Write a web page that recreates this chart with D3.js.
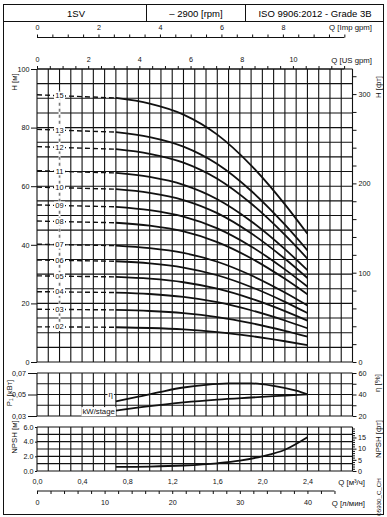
<!DOCTYPE html>
<html>
<head>
<meta charset="utf-8">
<script src="https://cdn.jsdelivr.net/npm/d3@7"></script>
<style>
  body { margin: 0; background: #fff; }
  svg { display: block; font-family: 'Liberation Sans', Arial, sans-serif; }
</style>
</head>
<body>
<svg id="chart" width="387" height="517"></svg>
<script>
// Flow points (m3/h) where head curves were read
var flowPoints = [0, 0.7, 1.0, 1.3, 1.6, 1.9, 2.2, 2.4];
var stageNames = ['02', '03', '04', '05', '06', '07', '08', '09', '10', '11', '12', '13', '15'];
var head02 = [12.0, 11.86, 11.6, 11.11, 10.21, 8.83, 7.08, 5.76];
var head03 = [18.0, 17.78, 17.41, 16.67, 15.32, 13.25, 10.62, 8.64];
var head04 = [24.0, 23.71, 23.21, 22.22, 20.42, 17.66, 14.16, 11.52];
var head05 = [29.4, 29.05, 28.43, 27.22, 25.02, 21.64, 17.35, 14.11];
var head06 = [34.8, 34.38, 33.65, 32.22, 29.61, 25.61, 20.53, 16.70];
var head07 = [40.2, 39.72, 38.87, 37.23, 34.21, 29.59, 23.72, 19.30];
var head08 = [48.1, 47.52, 46.51, 44.54, 40.93, 35.40, 28.38, 23.09];
var head09 = [53.6, 52.96, 51.83, 49.63, 45.61, 39.45, 31.62, 25.73];
var head10 = [59.7, 58.98, 57.73, 55.28, 50.80, 43.94, 35.22, 28.66];
var head11 = [65.3, 64.52, 63.15, 60.47, 55.57, 48.06, 38.53, 31.34];
var head12 = [73.5, 72.62, 71.07, 68.06, 62.55, 54.10, 43.37, 35.28];
var head13 = [79.4, 78.45, 76.78, 73.52, 67.57, 58.44, 46.85, 38.11];
var head15 = [91.2, 90.11, 88.19, 84.45, 77.61, 67.12, 53.81, 43.78];
var headCurves = [head02, head03, head04, head05, head06, head07, head08, head09, head10, head11, head12, head13, head15];

var effFlow = [0.7, 0.9, 1.1, 1.3, 1.5, 1.7, 1.9, 2.1, 2.3, 2.4];
var effValues = [33.5, 38, 42.5, 46.5, 49, 50.3, 50.4, 48, 43.5, 40.2];
var powerFlow = [0.7, 1.0, 1.3, 1.6, 1.9, 2.2, 2.4];
var powerValues = [0.035, 0.0392, 0.0427, 0.0453, 0.0472, 0.049, 0.0502];
var npshFlow = [0.7, 1.0, 1.3, 1.6, 1.8, 2.0, 2.2, 2.4];
var npshValues = [0.55, 0.6, 0.75, 1.05, 1.4, 2.0, 2.9, 4.6];

// Tick labels
var flowTicks = [0, 0.4, 0.8, 1.2, 1.6, 2.0, 2.4];
var headTicks = [0, 20, 40, 60, 80, 100];
var headFtLabels = [0, 100, 200, 300];
var powerTicks = [0.03, 0.05, 0.07];
var effTicks = [20, 40, 60];
var npshTicks = [0, 2, 4, 6];
var npshFtLabels = [0, 5, 10, 15];
var impLabels = [0, 2, 4, 6, 8];
var usLabels = [0, 2, 4, 6, 8, 10];
var lminLabels = [0, 10, 20, 30, 40];
var headerTexts = ['1SV', '\u2013 2900 [rpm]', 'ISO 9906:2012 - Grade 3B'];

var svg = d3.select('#chart');
var INK = '#111';

var x = d3.scaleLinear().domain([0, 2.8]).range([37, 352.5]);
var yH = d3.scaleLinear().domain([0, 100]).range([362, 69]);
var yP = d3.scaleLinear().domain([0.03, 0.07]).range([416, 373]);
var yEta = d3.scaleLinear().domain([20, 60]).range([416, 373]);
var yN = d3.scaleLinear().domain([0, 6]).range([471, 427]);

function comma(d) {
  return String(d).replace('.', ',');
}

/*
 * Frame and header
 */
svg.append('rect')
  .attr('x', 3.5).attr('y', 4.5)
  .attr('width', 380).attr('height', 510)
  .attr('fill', 'none').attr('stroke', INK);
svg.append('line')
  .attr('x1', 3.5).attr('x2', 383.5).attr('y1', 21.5).attr('y2', 21.5)
  .attr('stroke', INK);
[146.5, 245.5].forEach(function(px) {
  svg.append('line')
    .attr('x1', px).attr('x2', px).attr('y1', 4.5).attr('y2', 21.5)
    .attr('stroke', INK);
});
svg.selectAll('.header').data(headerTexts).enter().append('text')
  .attr('class', 'header')
  .attr('x', function(d, i) { return [76, 196, 315][i]; })
  .attr('y', 16.5)
  .attr('text-anchor', 'middle')
  .attr('font-size', 9.5)
  .text(function(d) { return d; });

/*
 * Grids
 */
function drawGrid(yScale, yValues) {
  var g = svg.append('g').attr('class', 'grid');
  var r = yScale.range();
  g.selectAll('.v').data(d3.range(0, 2.801, 0.1)).enter().append('line')
    .attr('x1', function(d) { return x(d); })
    .attr('x2', function(d) { return x(d); })
    .attr('y1', r[0]).attr('y2', r[1])
    .attr('stroke', INK).attr('stroke-width', 1.1);
  g.selectAll('.h').data(yValues).enter().append('line')
    .attr('x1', x(0)).attr('x2', x(2.8))
    .attr('y1', function(d) { return yScale(d); })
    .attr('y2', function(d) { return yScale(d); })
    .attr('stroke', INK).attr('stroke-width', 1.1);
}
drawGrid(yH, d3.range(0, 100.1, 5));
drawGrid(yP, [0.03, 0.04, 0.05, 0.06, 0.07]);
drawGrid(yN, [0, 1, 2, 3, 4, 5, 6]);

/*
 * Axes
 */
function styleAxis(g, size) {
  g.attr('font-size', size || 7.2).attr('font-family', null);
  g.selectAll('line').attr('stroke', INK);
  g.selectAll('text').attr('fill', INK);
  g.select('.domain').remove();
}

// left
svg.append('g').attr('transform', 'translate(' + x(0) + ',0)')
  .call(d3.axisLeft(yH).tickValues(headTicks).tickSize(6).tickPadding(1.5))
  .call(styleAxis);
svg.append('g').attr('transform', 'translate(' + x(0) + ',0)')
  .call(d3.axisLeft(yP).tickValues(powerTicks).tickSize(9).tickPadding(2)
    .tickFormat(function(d) { return d3.format('.2f')(d).replace('.', ','); }))
  .call(styleAxis);
svg.append('g').attr('transform', 'translate(' + x(0) + ',0)')
  .call(d3.axisLeft(yN).tickValues(npshTicks).tickSize(2).tickPadding(1.5))
  .call(styleAxis);

// right
var yFt = d3.scaleLinear().domain([0, 100 / 0.3048]).range(yH.range());
svg.append('g').attr('transform', 'translate(' + x(2.8) + ',0)')
  .call(d3.axisRight(yFt).tickValues(d3.range(0, 321, 20)).tickSize(4).tickPadding(2)
    .tickFormat(function(d) { return headFtLabels.indexOf(d) >= 0 ? d : ''; }))
  .call(styleAxis);
svg.append('g').attr('transform', 'translate(' + x(2.8) + ',0)')
  .call(d3.axisRight(yEta).tickValues([20, 30, 40, 50, 60]).tickSize(4).tickPadding(2)
    .tickFormat(function(d) { return effTicks.indexOf(d) >= 0 ? d : ''; }))
  .call(styleAxis);
var yNFt = d3.scaleLinear().domain([0, 6 / 0.3048]).range(yN.range());
svg.append('g').attr('transform', 'translate(' + x(2.8) + ',0)')
  .call(d3.axisRight(yNFt).tickValues(d3.range(0, 19.5, 1)).tickSize(2.5).tickPadding(3)
    .tickFormat(function(d) { return npshFtLabels.indexOf(d) >= 0 ? d : ''; }))
  .call(styleAxis)
  .selectAll('.tick line')
  .attr('x2', function(d) { return d % 5 === 0 ? 4 : 2.5; });

// bottom m3/h
svg.append('g').attr('transform', 'translate(0,' + yN(0) + ')')
  .call(d3.axisBottom(x).tickValues(flowTicks).tickSize(0).tickPadding(8)
    .tickFormat(function(d) { return d3.format('.1f')(d).replace('.', ','); }))
  .call(styleAxis);

// secondary flow scales
function unitAxis(factor, maxValue, step, labels, y, orient, pad) {
  var s = d3.scaleLinear().domain([0, 2.8 / factor]).range(x.range());
  var axis = (orient === 'top' ? d3.axisTop(s) : d3.axisBottom(s))
    .tickValues(d3.range(0, maxValue + 0.001, step))
    .tickSize(3).tickPadding(pad)
    .tickFormat(function(d) { return labels.indexOf(d) >= 0 ? d : ''; });
  var g = svg.append('g').attr('transform', 'translate(0,' + y + ')')
    .call(axis).call(styleAxis);
  g.append('line')
    .attr('x1', s(0)).attr('x2', s(maxValue))
    .attr('stroke', INK);
}
unitAxis(0.272765, 10, 0.5, impLabels, 37.5, 'top', 5);
unitAxis(0.227125, 12, 0.5, usLabels, 69, 'top', 4);
unitAxis(0.06, 44, 2, lminLabels, 491, 'bottom', 6);

/*
 * Axis titles
 */
function title(text, px, py, rotate, size) {
  svg.append('text')
    .attr('transform', 'translate(' + px + ',' + py + ')' + (rotate ? ' rotate(-90)' : ''))
    .attr('text-anchor', rotate ? 'middle' : 'end')
    .attr('dominant-baseline', rotate ? 'central' : 'auto')
    .attr('font-size', size || 7.8)
    .attr('fill', INK)
    .text(text);
}
title('Q [Imp gpm]', 372, 30);
title('Q [US gpm]', 372, 62.5);
title('Q [м³/ч]', 365, 485);
title('Q [л/мин]', 365, 506);
title('H [м]', 14, 82, true);
title('P\u2081 [кВт]', 9, 393, true);
title('NPSH [м]', 14, 437, true);
title('H [фт]', 378, 87, true);
title('η [%]', 377, 383, true);
title('NPSH [фт]', 378, 439, true);
title('05930_C_CH', 378, 497, true, 6.2);

/*
 * Head curves
 */
var line = d3.line()
  .x(function(d) { return x(d[0]); })
  .y(function(d) { return yH(d[1]); })
  .curve(d3.curveMonotoneX);

var labelFlow = 0.2;
// dashed label guide
svg.append('line')
  .attr('x1', x(labelFlow)).attr('x2', x(labelFlow))
  .attr('y1', yH(head15[0]) - 4).attr('y2', yH(head02[0]) + 4)
  .attr('stroke', '#fff').attr('stroke-width', 2);
svg.append('line')
  .attr('x1', x(labelFlow)).attr('x2', x(labelFlow))
  .attr('y1', yH(head15[0]) - 4).attr('y2', yH(head02[0]) + 4)
  .attr('stroke', '#777').attr('stroke-width', 1.6)
  .attr('stroke-dasharray', '3,3');

var curves = svg.append('g').attr('class', 'head-curves');
headCurves.forEach(function(values, i) {
  var pts = flowPoints.map(function(q, j) { return [q, values[j]]; });
  curves.append('path')
    .attr('d', line(pts.slice(0, 2)))
    .attr('fill', 'none').attr('stroke', INK)
    .attr('stroke-width', 1.4).attr('stroke-dasharray', '5,3');
  curves.append('path')
    .attr('d', line(pts.slice(1)))
    .attr('fill', 'none').attr('stroke', INK)
    .attr('stroke-width', 1.8);
  var ly = yH(values[0] + (values[1] - values[0]) * labelFlow / 0.7);
  curves.append('rect')
    .attr('x', x(labelFlow) - 5.5).attr('y', ly - 4)
    .attr('width', 11).attr('height', 8)
    .attr('fill', '#fff');
  curves.append('text')
    .attr('x', x(labelFlow)).attr('y', ly)
    .attr('text-anchor', 'middle').attr('dominant-baseline', 'central')
    .attr('font-size', 7.5).attr('fill', INK)
    .text(stageNames[i]);
});

/*
 * Efficiency and power
 */
var effLine = d3.line()
  .x(function(d) { return x(d[0]); })
  .y(function(d) { return yEta(d[1]); })
  .curve(d3.curveMonotoneX);
var powerLine = d3.line()
  .x(function(d) { return x(d[0]); })
  .y(function(d) { return yP(d[1]); })
  .curve(d3.curveMonotoneX);
svg.append('path')
  .attr('d', effLine(effFlow.map(function(q, i) { return [q, effValues[i]]; })))
  .attr('fill', 'none').attr('stroke', INK).attr('stroke-width', 1.8);
svg.append('path')
  .attr('d', powerLine(powerFlow.map(function(q, i) { return [q, powerValues[i]]; })))
  .attr('fill', 'none').attr('stroke', INK).attr('stroke-width', 1.8);

function curveTag(text, px, py) {
  var t = svg.append('text')
    .attr('x', px).attr('y', py)
    .attr('text-anchor', 'end').attr('dominant-baseline', 'central')
    .attr('font-size', 7.8).attr('fill', INK)
    .text(text);
  var b = t.node().getBBox();
  svg.insert('rect', function() { return t.node(); })
    .attr('x', b.x - 1).attr('y', b.y)
    .attr('width', b.width + 2).attr('height', b.height)
    .attr('fill', '#fff');
}
curveTag('η', x(effFlow[0]) - 3, yEta(effValues[0]) - 7);
curveTag('kW/stage', x(powerFlow[0]) - 1, yP(powerValues[0]) + 1);

/*
 * NPSH
 */
var npshLine = d3.line()
  .x(function(d) { return x(d[0]); })
  .y(function(d) { return yN(d[1]); })
  .curve(d3.curveMonotoneX);
svg.append('path')
  .attr('d', npshLine(npshFlow.map(function(q, i) { return [q, npshValues[i]]; })))
  .attr('fill', 'none').attr('stroke', INK).attr('stroke-width', 1.8);
</script>
</body>
</html>
